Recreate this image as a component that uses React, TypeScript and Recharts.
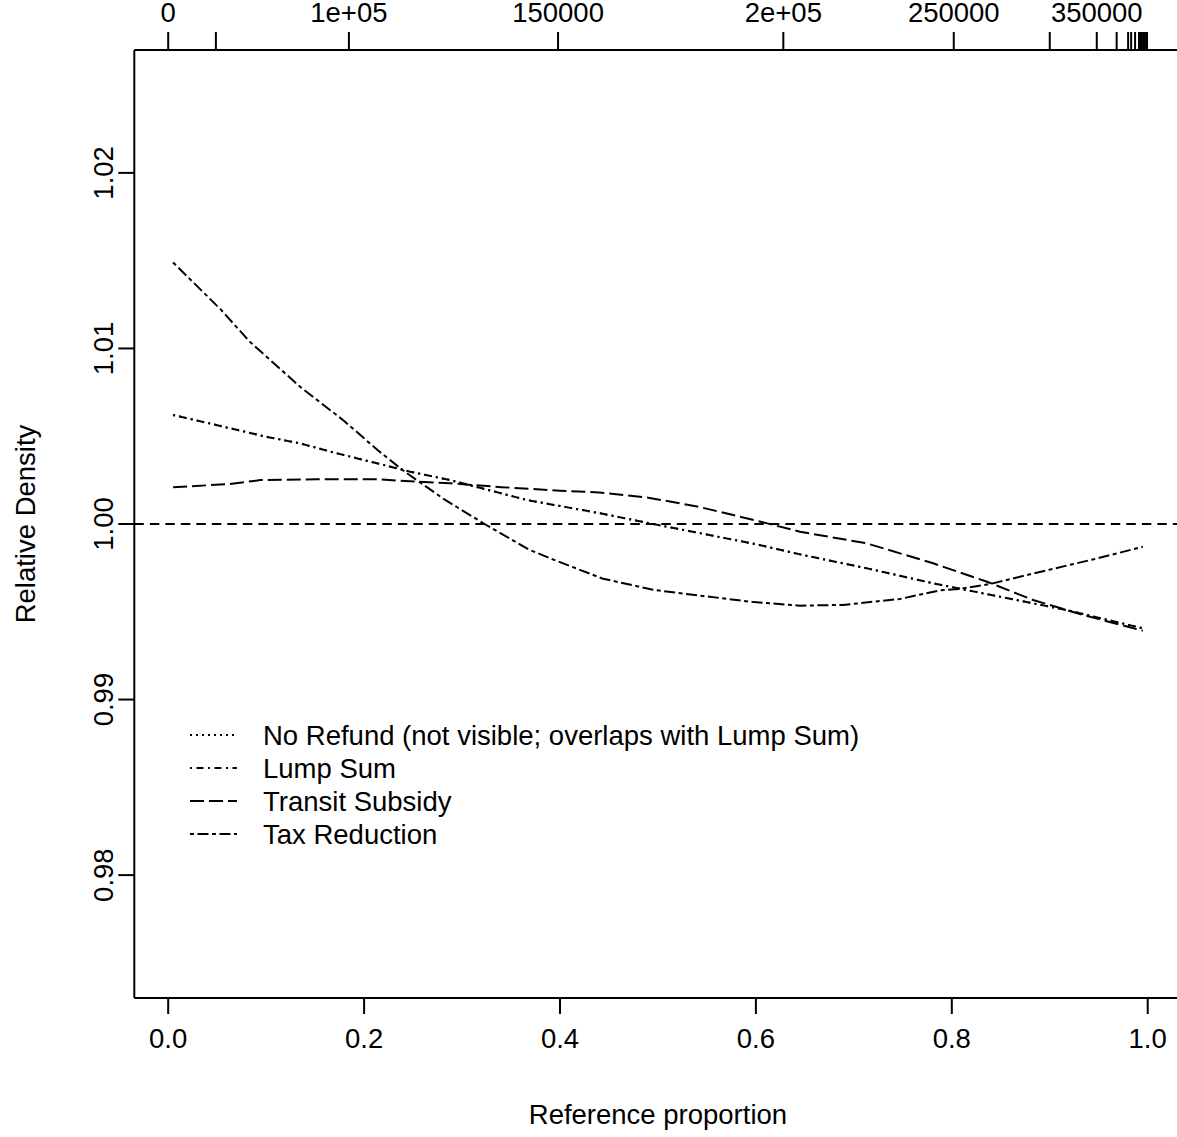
import React from "react";
import { ComposedChart, Line, XAxis, YAxis, ReferenceLine } from "recharts";

// ---- data ----
const xTicks = [0, 0.2, 0.4, 0.6, 0.8, 1.0];
const yTicks = [0.98, 0.99, 1.0, 1.01, 1.02];
const topTickPositions = [0, 0.0487, 0.1845, 0.398, 0.628, 0.802, 0.9, 0.948, 0.9683, 0.98, 0.9831, 0.9871, 0.9911, 0.9926, 0.9941, 0.9956, 0.9971, 0.9986, 0.9993];
const topTickLabels = ["0", "", "1e+05", "150000", "2e+05", "250000", "", "350000", "", "", "", "", "", "", "", "", "", "", ""];

const taxX = [0.005, 0.054, 0.083, 0.135, 0.179, 0.214, 0.241, 0.282, 0.323, 0.368, 0.392, 0.443, 0.495, 0.546, 0.598, 0.645, 0.689, 0.747, 0.788, 0.808, 0.839, 0.883, 0.944, 0.995];
const taxY = [1.0149, 1.0122, 1.0104, 1.0078, 1.0059, 1.0042, 1.003, 1.0014, 1.0, 0.99855, 0.998, 0.9969, 0.99625, 0.9959, 0.99555, 0.99535, 0.99539, 0.99573, 0.99622, 0.9963, 0.99658, 0.99718, 0.99798, 0.9987];

const lumpX = [0.005, 0.049, 0.1, 0.134, 0.172, 0.213, 0.247, 0.288, 0.366, 0.441, 0.495, 0.55, 0.6, 0.645, 0.713, 0.781, 0.849, 0.917, 0.995];
const lumpY = [1.00621, 1.00564, 1.00497, 1.0046, 1.00403, 1.00346, 1.00298, 1.0025, 1.00137, 1.00061, 1.0, 0.9994, 0.99885, 0.99827, 0.99748, 0.99662, 0.99586, 0.9951, 0.99406];

const noRefundX = lumpX;
const noRefundY = lumpY;

const transitX = [0.005, 0.063, 0.094, 0.152, 0.213, 0.254, 0.288, 0.34, 0.4, 0.44, 0.49, 0.54, 0.6, 0.645, 0.713, 0.781, 0.836, 0.883, 0.934, 0.995];
const transitY = [1.00209, 1.00228, 1.0025, 1.00255, 1.00255, 1.00241, 1.00232, 1.0021, 1.0019, 1.0018, 1.0015, 1.001, 1.0002, 0.99956, 0.9989, 0.99776, 0.99671, 0.99567, 0.99482, 0.99392];

const seriesNames = ["No Refund (not visible; overlaps with Lump Sum)", "Lump Sum", "Transit Subsidy", "Tax Reduction"];
const seriesDash = ["2 4", "2 4.5 7 4.5", "14 5", "4 3.5 11 3.5"];

const xLabel = "Reference proportion";
const yLabel = "Relative Density";

const zip = (xs: number[], ys: number[]) => xs.map((x, i) => ({ x, y: ys[i] }));
const noRefundData = zip(noRefundX, noRefundY);
const lumpData = zip(lumpX, lumpY);
const transitData = zip(transitX, transitY);
const taxData = zip(taxX, taxY);

const FONT = "'Liberation Sans', Arial, Helvetica, sans-serif";
const FS = 27.5;

const BottomTick = (p: any) => (
  <text x={p.x} y={p.y + 32} textAnchor="middle" fontFamily={FONT} fontSize={FS} fill="#000">
    {Number(p.payload.value).toFixed(1)}
  </text>
);

const TopTick = (p: any) => {
  const idx = topTickPositions.indexOf(p.payload.value);
  const lab = idx >= 0 ? topTickLabels[idx] : "";
  return (
    <text x={p.x} y={p.y - 8} textAnchor="middle" fontFamily={FONT} fontSize={FS} fill="#000">
      {lab}
    </text>
  );
};

const LeftTick = (p: any) => {
  const tx = p.x - 3;
  return (
    <text x={tx} y={p.y} textAnchor="middle" transform={`rotate(-90, ${tx}, ${p.y})`} fontFamily={FONT} fontSize={FS} fill="#000">
      {Number(p.payload.value).toFixed(2)}
    </text>
  );
};

const LegendBox = () => (
  <svg width={760} height={150} style={{ position: "absolute", left: 180, top: 712, overflow: "visible" }}>
    {seriesNames.map((n, i) => (
      <g key={n}>
        <line x1={10} x2={57} y1={23 + i * 33} y2={23 + i * 33} stroke="#000" strokeWidth={2} strokeDasharray={seriesDash[i]} />
        <text x={83} y={23 + i * 33 + 10} fontFamily={FONT} fontSize={FS} fill="#000">
          {n}
        </text>
      </g>
    ))}
  </svg>
);

export default function App() {
  return (
    <div style={{ position: "absolute", left: 0, top: 0, width: 1177, height: 1137, overflow: "hidden", background: "#fff" }}>
      <ComposedChart width={1195} height={1137} margin={{ top: 20, right: 13.4, bottom: 39, left: 34.3 }}>
        <XAxis
          xAxisId="bottom"
          dataKey="x"
          type="number"
          domain={[-0.0346, 1.0346]}
          ticks={xTicks}
          allowDataOverflow
          height={100}
          tickSize={16}
          tickMargin={2}
          interval={0}
          axisLine={{ stroke: "#000", strokeWidth: 2 }}
          tickLine={{ stroke: "#000", strokeWidth: 2 }}
          tick={BottomTick}
          label={{ value: xLabel, position: "insideBottom", offset: 0, content: (lp: any) => {
            const vb = lp.viewBox;
            return (
              <text x={vb.x + vb.width / 2} y={1124} textAnchor="middle" fontFamily={FONT} fontSize={FS} fill="#000">{xLabel}</text>
            );
          } }}
        />
        <XAxis
          xAxisId="top"
          orientation="top"
          dataKey="x"
          type="number"
          domain={[-0.0346, 1.0346]}
          ticks={topTickPositions}
          allowDataOverflow
          height={30}
          tickSize={18}
          tickMargin={2}
          interval={0}
          axisLine={{ stroke: "#000", strokeWidth: 2 }}
          tickLine={{ stroke: "#000", strokeWidth: 2 }}
          tick={TopTick}
        />
        <YAxis
          dataKey="y"
          type="number"
          domain={[0.973, 1.027]}
          ticks={yTicks}
          allowDataOverflow
          width={100}
          tickSize={16}
          tickMargin={2}
          interval={0}
          axisLine={{ stroke: "#000", strokeWidth: 2 }}
          tickLine={{ stroke: "#000", strokeWidth: 2 }}
          tick={LeftTick}
          label={{ value: yLabel, content: (lp: any) => {
            const vb = lp.viewBox;
            const cy = vb.y + vb.height / 2;
            return (
              <text x={35} y={cy} textAnchor="middle" transform={`rotate(-90, 35, ${cy})`} fontFamily={FONT} fontSize={FS} fill="#000">{yLabel}</text>
            );
          } }}
        />
        <ReferenceLine xAxisId="bottom" y={1} stroke="#000" strokeWidth={2} strokeDasharray="9.5 6" />
        <Line xAxisId="bottom" data={noRefundData} dataKey="y" type="linear" stroke="#000" strokeWidth={2} strokeDasharray={seriesDash[0]} dot={false} isAnimationActive={false} />
        <Line xAxisId="bottom" data={lumpData} dataKey="y" type="linear" stroke="#000" strokeWidth={2} strokeDasharray={seriesDash[1]} dot={false} isAnimationActive={false} />
        <Line xAxisId="bottom" data={transitData} dataKey="y" type="linear" stroke="#000" strokeWidth={2} strokeDasharray={seriesDash[2]} dot={false} isAnimationActive={false} />
        <Line xAxisId="bottom" data={taxData} dataKey="y" type="linear" stroke="#000" strokeWidth={2} strokeDasharray={seriesDash[3]} dot={false} isAnimationActive={false} />
      </ComposedChart>
      <LegendBox />
    </div>
  );
}
